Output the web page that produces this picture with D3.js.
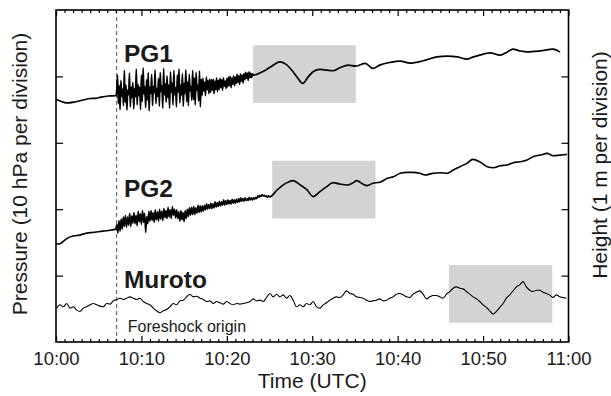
<!DOCTYPE html>
<html>
<head>
<meta charset="utf-8">
<script src="https://cdn.jsdelivr.net/npm/d3@7"></script>
<style>
body { margin: 0; background: #fff; }
svg text { font-family: "Liberation Sans", Arial, Helvetica, sans-serif; fill: #1a1a1a; }
</style>
</head>
<body>
<div id="chart"></div>
<script>
// minutes after 10:00 UTC; PG values are pressure anomalies (hPa), Muroto is sea height (m)
var timeTicks = [0, 10, 20, 30, 40, 50, 60];
var timeLabels = ["10:00", "10:10", "10:20", "10:30", "10:40", "10:50", "11:00"];
var divisionTicks = [10, 20, 30, 40];
var foreshockMinute = 7.1;

var stationNames = ["PG1", "PG2", "Muroto"];
var stationOffsets = [40, 20, 5];      // hPa on the plot
var murotoHpaPerMetre = 10;             // 10 hPa per division == 1 m per division

var pg1Before = [[0, -3.45], [0.47, -3.7], [1.29, -4.0], [2.2, -3.85], [3.2, -3.55], [4.0, -3.33],
    [4.6, -3.3], [5.15, -3.15], [6.1, -2.95], [7.0, -2.9]];
var pg1QuakeStart = 7.1, pg1QuakeStep = 0.1;
var pg1Quake = [
    -2.3, 0.2, -4.1, -1.4, -5.0, -0.6, -3.0, -1.9, -4.4, 0.9,
    -3.9, -1.3, -5.1, -2.0, -2.8, 0.5, -4.6, -1.6, -3.2, -0.9,
    -4.9, -1.8, -3.1, 1.1, -4.3, -1.2, -2.9, -1.6, -5.0, 0.2,
    -3.8, 1.3, -2.7, -1.5, -4.7, -0.5, -3.6, 0.6, -5.2, -1.6,
    -2.6, 0.3, -4.4, -1.5, -2.5, 1.0, -4.1, -1.8, -3.0, -0.3,
    -4.5, 0.6, -2.3, -1.4, -4.8, 1.2, -2.8, -1.1, -3.9, 0.1,
    -3.2, -1.3, -4.8, 0.7, -2.4, -1.0, -4.3, 0.9, -2.8, -1.7,
    -4.6, 0.2, -2.4, 1.1, -4.0, -1.3, -2.8, 0.4, -4.5, -1.0,
    -2.6, 1.0, -3.8, -0.8, -4.4, 0.3, -2.2, -1.5, -3.6, 0.9,
    -3.5, -0.2, -4.3, 0.6, -2.1, -1.3, -3.7, 0.8, -4.6, -0.4,
    -2.9, -0.3, -2.2, -0.9, -2.9, -0.1, -2.0, -0.6, -2.6, -0.4,
    -2.4, -0.5, -2.1, -0.4, -2.6, -0.7, -2.0, -0.2, -2.3, -0.6,
    -2.0, -0.3, -1.7, -0.5, -2.1, -0.2, -1.5, -0.7, -1.8, -0.3,
    -1.6, -0.1, -1.4, 0.0, -1.7, -0.2, -1.2, 0.1, -1.4, -0.1,
    -1.1, 0.3, -0.9, 0.1, -1.2, 0.4, -0.7, 0.2, -1.0, 0.4,
    -0.5, 0.6, -0.3, 0.5, -0.6, 0.7, -0.2, 0.5, -0.2, 0.4];
var pg1After = [[23.1, 0.2], [24.1, 0.65], [25.1, 1.4], [26.2, 2.2], [26.9, 1.85], [27.75, 0.7],
    [28.3, -0.25], [28.9, -1.05], [29.5, -0.1], [30.1, 0.7], [30.9, 1.05], [31.7, 0.95],
    [32.4, 0.85], [33.3, 1.35], [34.2, 1.7], [35.1, 1.55], [36.2, 1.95], [37.1, 1.2],
    [37.9, 1.7], [39.1, 2.1], [40.3, 2.3], [41.45, 2.0], [43.0, 2.35], [44.6, 2.95],
    [45.8, 3.05], [47.0, 2.95], [48.1, 2.6], [48.8, 2.9], [49.6, 3.2], [50.8, 3.55],
    [52.0, 3.2], [52.8, 3.65], [53.5, 4.1], [54.3, 3.85], [55.15, 3.7], [56.7, 3.85],
    [58.2, 4.1], [59.0, 3.65]];

var pg2Before = [[0, -5.15], [0.35, -5.25], [0.8, -4.9], [1.3, -4.4], [2.0, -4.05], [2.8, -3.9],
    [3.6, -3.6], [4.3, -3.5], [5.15, -3.35], [5.85, -3.25], [7.0, -3.0]];
var pg2QuakeStart = 7.125, pg2QuakeStep = 0.125;
var pg2Quake = [
    -2.3, -3.6, -1.7, -3.3, -1.5, -3.0, -1.2, -2.6,
    -0.9, -2.7, -1.2, -2.4, -0.6, -2.6, -1.0, -2.1,
    -0.5, -2.2, -0.9, -2.5, -0.3, -1.9, -0.7, -2.3,
    -0.2, -2.0, -0.6, -3.5, -1.1, -2.2, -0.3, -1.8,
    -0.2, -1.7, -0.5, -2.0, -0.1, -1.6, -0.4, -1.8,
    0.0, -1.5, -0.3, -1.7, 0.1, -1.3, -0.2, -1.4,
    0.3, -1.2, -0.1, -1.4, 0.4, -0.9, 0.0, -1.3,
    -0.1, -1.4, -0.4, -1.8, -0.2, -1.6, -0.5, -1.9,
    -0.2, -1.4, 0.0, -1.1, 0.2, -0.9, 0.3, -0.8,
    0.4, -0.8, 0.2, -0.6, 0.6, -0.5, 0.5, -0.4,
    0.5, -0.3, 0.6, -0.1, 0.8, 0.0, 0.7, 0.1,
    0.9, 0.1, 0.8, 0.2, 1.1, 0.3, 1.0, 0.4,
    1.2, 0.5, 1.1, 0.6, 1.4, 0.6, 1.3, 0.7,
    1.4, 0.8, 1.3, 0.8, 1.5, 0.9, 1.4, 0.9,
    1.5, 1.0, 1.6, 1.1, 1.7, 1.2, 1.6, 1.2,
    1.7, 1.3, 1.6, 1.3, 1.8, 1.4, 1.7, 1.4,
    1.7, 1.5, 1.8, 1.6, 2.0, 1.8, 2.1, 1.9,
    2.2, 2.0, 2.1, 1.9, 2.0, 1.8, 2.0, 1.85];
var pg2After = [[25.9, 2.9], [26.6, 3.65], [27.05, 4.0], [27.75, 4.3], [28.6, 3.65], [29.4, 2.9],
    [30.1, 1.9], [30.9, 2.65], [31.7, 3.4], [32.4, 4.0], [33.2, 3.8], [34.1, 3.65],
    [34.8, 4.0], [35.2, 4.3], [35.9, 3.8], [36.4, 3.55], [37.1, 3.9], [37.9, 4.05],
    [38.8, 4.65], [39.5, 4.9], [40.3, 5.4], [41.1, 5.55], [41.8, 5.55], [42.6, 5.4],
    [43.2, 5.15], [44.1, 5.4], [45.0, 5.5], [45.8, 5.4], [46.5, 5.9], [47.3, 6.4],
    [48.1, 6.9], [48.8, 7.5], [49.6, 7.15], [50.5, 6.4], [51.2, 6.25], [52.0, 6.55],
    [52.8, 6.65], [53.5, 7.0], [54.3, 7.15], [55.15, 7.4], [55.85, 7.9], [56.7, 8.15],
    [57.5, 8.4], [58.2, 8.05], [59.0, 8.15], [59.8, 8.25]];

var murotoStart = 0.08, murotoStep = 0.39;
var murotoHeight = [0.01, 0.06, 0.03, 0.08, 0.01, 0.03, -0.02, -0.04, 0.01, 0.03,
    0.06, 0.08, 0.06, 0.04, 0.03, 0.08, 0.07, 0.12, 0.14, 0.16,
    0.14, 0.16, 0.18, 0.16, 0.14, 0.16, 0.11, 0.08, 0.06, 0.01,
    -0.03, -0.06, -0.03, -0.01, 0.03, 0.08, 0.06, 0.12, 0.13, 0.18,
    0.22, 0.18, 0.19, 0.16, 0.14, 0.11, 0.12, 0.08, 0.11, 0.09,
    0.07, 0.11, 0.08, 0.06, 0.08, 0.07, 0.08, 0.09,
    0.11, 0.15, 0.12, 0.13, 0.11, 0.17, 0.23, 0.18, 0.22, 0.18,
    0.21, 0.16, 0.20, 0.13, 0.03, 0.06, 0.03, 0.08, 0.06, 0.11,
    0.03, 0.01, 0.06, 0.09, 0.13, 0.16, 0.18, 0.17, 0.21, 0.27,
    0.23, 0.22, 0.18, 0.17, 0.16, 0.13, 0.11, 0.12, 0.13, 0.15,
    0.12, 0.13, 0.16, 0.18, 0.22, 0.23, 0.21, 0.18, 0.17, 0.22,
    0.25, 0.27, 0.22, 0.15, 0.18, 0.20, 0.20, 0.18, 0.16, 0.22,
    0.26, 0.31, 0.33, 0.31, 0.30, 0.26, 0.22, 0.18, 0.15, 0.11,
    0.06, 0.02, -0.03, -0.08, -0.04, 0.02, 0.08, 0.16, 0.21, 0.27,
    0.33, 0.36, 0.41, 0.33, 0.28, 0.26, 0.28, 0.28, 0.25, 0.23,
    0.21, 0.17, 0.21, 0.18, 0.17, 0.16];

// shaded windows, in each station's own units
var windowStart = [23.07, 25.3, 46.0];
var windowEnd = [35.1, 37.4, 58.1];
var windowLow = [-4.0, -1.4, -0.21];
var windowHigh = [4.7, 7.3, 0.66];

function sampled(start, step, values)
{
    var out = [];
    for (var i in values){
        out.push([start + i * step, values[i]]);
    }
    return out;
}

function drawChart()
{
    var width = 611, height = 396;
    var margin = {left: 56, right: 42.5, top: 10, bottom: 54};

    var svg = d3.select("#chart")
        .append("svg")
        .attr("width", width)
        .attr("height", height);

    var x = d3.scaleLinear().domain([0, 60]).range([margin.left, width - margin.right]);
    var y = d3.scaleLinear().domain([0, 50]).range([height - margin.bottom, margin.top]);

    var pg1 = pg1Before.concat(sampled(pg1QuakeStart, pg1QuakeStep, pg1Quake), pg1After);
    var pg2 = pg2Before.concat(sampled(pg2QuakeStart, pg2QuakeStep, pg2Quake), pg2After);
    var muroto = sampled(murotoStart, murotoStep, murotoHeight).map(function (d) {
        return [d[0], d[1] * murotoHpaPerMetre];
    });
    var traces = [pg1, pg2, muroto];
    var scaleFactor = [1, 1, murotoHpaPerMetre];

    // grey windows
    svg.selectAll("rect.window")
        .data(windowStart)
        .enter()
        .append("rect")
        .attr("class", "window")
        .attr("x", function (d, i) { return x(windowStart[i]); })
        .attr("width", function (d, i) { return x(windowEnd[i]) - x(windowStart[i]); })
        .attr("y", function (d, i) { return y(stationOffsets[i] + windowHigh[i] * scaleFactor[i]); })
        .attr("height", function (d, i) {
            return y(stationOffsets[i] + windowLow[i] * scaleFactor[i]) - y(stationOffsets[i] + windowHigh[i] * scaleFactor[i]);
        })
        .attr("fill", "#d3d3d3");

    // foreshock origin
    svg.append("line")
        .attr("x1", x(foreshockMinute)).attr("x2", x(foreshockMinute))
        .attr("y1", y(50)).attr("y2", y(0))
        .attr("stroke", "#555")
        .attr("stroke-width", 1)
        .attr("stroke-dasharray", "4,3");

    var widths = [1.7, 1.6, 1.1];
    traces.forEach(function (trace, i) {
        var line = d3.line()
            .x(function (d) { return x(d[0]); })
            .y(function (d) { return y(d[1] + stationOffsets[i]); })
            .curve(d3.curveMonotoneX);
        svg.append("path")
            .datum(trace)
            .attr("d", line)
            .attr("fill", "none")
            .attr("stroke", "#000")
            .attr("stroke-width", widths[i])
            .attr("stroke-linejoin", "round");
    });

    // axes: ticks point inward on all four sides
    var minor = d3.range(0, 61).filter(function (m) { return m % 10 != 0; });
    var bottom = y(0), top = y(50), left = x(0), right = x(60);

    svg.append("g")
        .attr("transform", "translate(0," + bottom + ")")
        .call(d3.axisBottom(x).tickValues(timeTicks).tickSize(-6).tickPadding(10)
            .tickFormat(function (d, i) { return timeLabels[i]; }));
    svg.append("g")
        .attr("transform", "translate(0," + bottom + ")")
        .call(d3.axisBottom(x).tickValues(minor).tickSize(-3).tickFormat(""));
    svg.append("g")
        .attr("transform", "translate(0," + top + ")")
        .call(d3.axisTop(x).tickValues(timeTicks).tickSize(-6).tickFormat(""));
    svg.append("g")
        .attr("transform", "translate(0," + top + ")")
        .call(d3.axisTop(x).tickValues(minor).tickSize(-3).tickFormat(""));
    svg.append("g")
        .attr("transform", "translate(" + left + ",0)")
        .call(d3.axisLeft(y).tickValues(divisionTicks).tickSize(-7).tickFormat(""));
    svg.append("g")
        .attr("transform", "translate(" + right + ",0)")
        .call(d3.axisRight(y).tickValues(divisionTicks).tickSize(-7).tickFormat(""));

    svg.selectAll(".domain").remove();
    svg.selectAll(".tick line").attr("stroke", "#000").attr("stroke-width", 1.2);
    svg.selectAll(".tick text")
        .attr("font-size", "18.5px")
        .attr("font-family", "'Liberation Sans', Arial, sans-serif")
        .attr("fill", "#1a1a1a");

    svg.append("rect")
        .attr("x", left).attr("y", top)
        .attr("width", right - left).attr("height", bottom - top)
        .attr("fill", "none")
        .attr("stroke", "#000")
        .attr("stroke-width", 1.6);

    // station names
    var nameLift = [2.2, 1.9, 3.1];
    svg.selectAll("text.station")
        .data(stationNames)
        .enter()
        .append("text")
        .attr("class", "station")
        .attr("x", x(7.95))
        .attr("y", function (d, i) { return y(stationOffsets[i] + nameLift[i]); })
        .attr("font-size", "24.5px")
        .attr("font-weight", "bold")
        .text(function (d) { return d; });

    svg.append("text")
        .attr("x", x(8.4))
        .attr("y", 332)
        .attr("font-size", "16px")
        .text("Foreshock origin");

    svg.append("text")
        .attr("x", (left + right) / 2)
        .attr("y", 388)
        .attr("text-anchor", "middle")
        .attr("font-size", "21px")
        .text("Time (UTC)");

    svg.append("text")
        .attr("transform", "translate(27,174) rotate(-90)")
        .attr("text-anchor", "middle")
        .attr("font-size", "21px")
        .text("Pressure (10 hPa per division)");

    svg.append("text")
        .attr("transform", "translate(606.5,165) rotate(-90)")
        .attr("text-anchor", "middle")
        .attr("font-size", "21px")
        .text("Height (1 m per division)");
}

drawChart();
</script>
</body>
</html>
